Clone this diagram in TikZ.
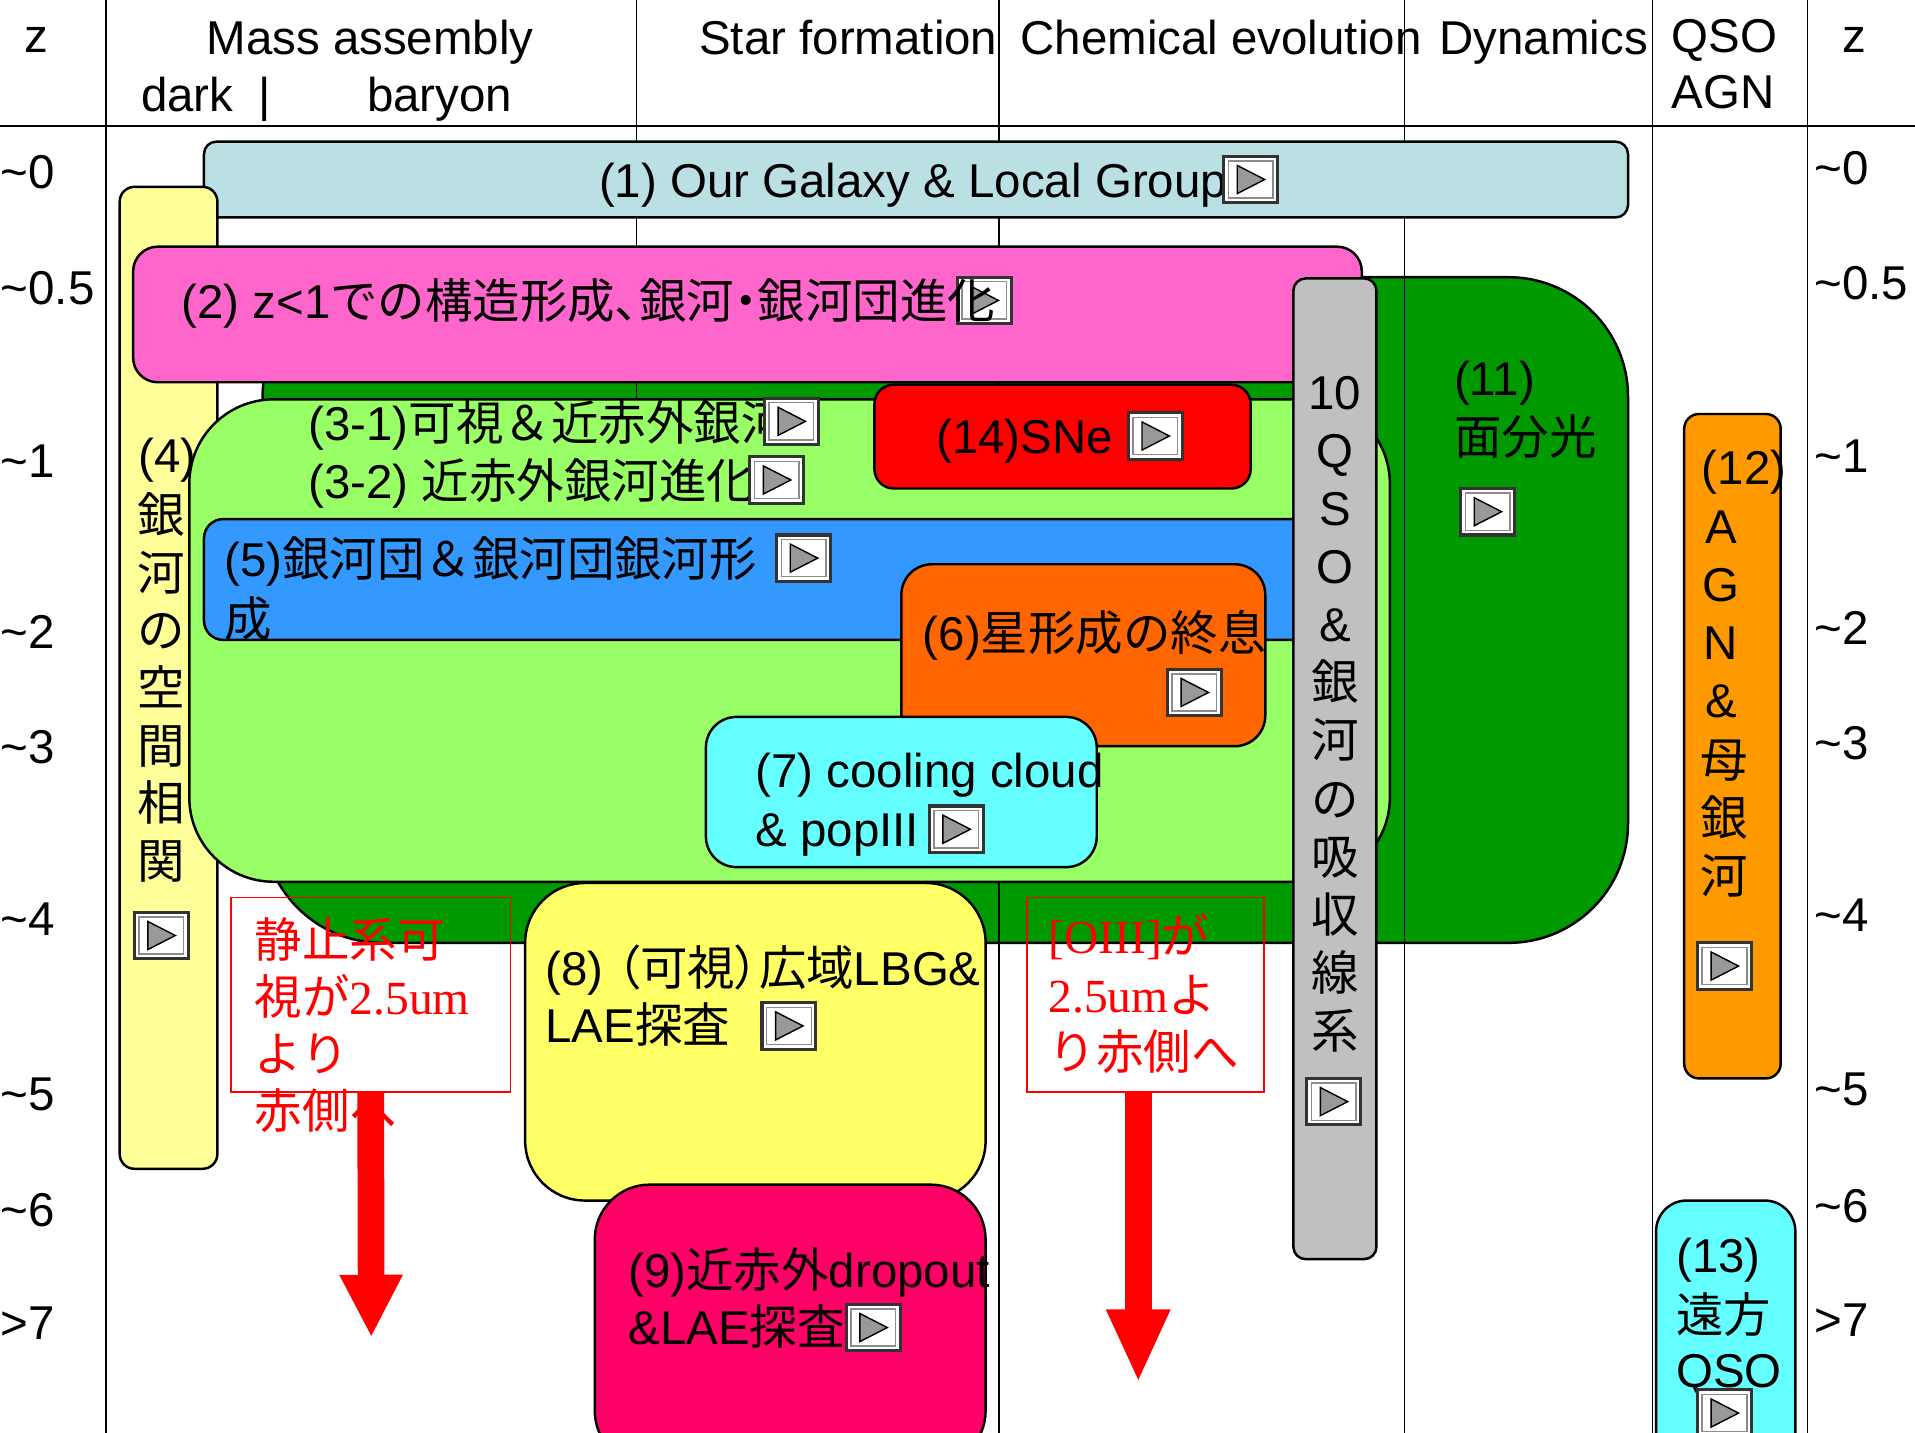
\documentclass[tikz,border=0pt]{standalone}
\usepackage{fontspec}
\setmainfont{Liberation Sans}
\newfontfamily\jp{Noto Sans CJK JP}
\newfontfamily\jpp[RawFeature=+palt]{Noto Sans CJK JP}
\newfontfamily\ser{Liberation Serif}
\usetikzlibrary{arrows.meta,calc}
\def\pxu{0.3475pt}
\definecolor{cLB}{HTML}{BBE0E3}
\definecolor{cPink}{HTML}{FF66CC}
\definecolor{cLG}{HTML}{99FF66}
\definecolor{cDG}{HTML}{009900}
\definecolor{cRed}{HTML}{FF0000}
\definecolor{cBlue}{HTML}{3399FF}
\definecolor{cOr}{HTML}{FF6600}
\definecolor{cCy}{HTML}{66FFFF}
\definecolor{cYe}{HTML}{FFFF66}
\definecolor{cMag}{HTML}{FF0066}
\definecolor{cGr}{HTML}{C0C0C0}
\definecolor{cOrb}{HTML}{FF9900}
\definecolor{cPY}{HTML}{FFFF99}
\definecolor{cTri}{HTML}{999999}
\begin{document}
\begin{tikzpicture}[x=0.012213cm, y=-0.012213cm,
  every node/.style={inner sep=0pt, font=\fontsize{13.5}{16}\selectfont},
  box/.style={draw=black, line width=0.7pt},
  colline/.style={draw=black, line width=0.45pt},
  btn/.style={draw=black!80, line width=0.9pt, fill=white,
    minimum width=15.3pt, minimum height=13.2pt,
    path picture={
      \draw[black!45, line width=0.4pt] ([shift={(1.3pt,1.3pt)}]path picture bounding box.south west) rectangle ([shift={(-1.3pt,-1.3pt)}]path picture bounding box.north east);
      \filldraw[fill=cTri, draw=black, line width=0.4pt]
        ([shift={(-3.8pt,4pt)}]path picture bounding box.center) --
        ([shift={(-3.8pt,-4pt)}]path picture bounding box.center) --
        ([shift={(4pt,0pt)}]path picture bounding box.center) -- cycle;}},
  txt/.style={anchor=base west},
  ctr/.style={anchor=base},
  redtxt/.style={anchor=base west, text=red},
  notebox/.style={draw=red, line width=0.5pt},
  bigarrow/.style={draw=red, line width=7.6pt}]
\useasboundingbox (0,0) rectangle (1568,1173);
\clip (0,0) rectangle (1568,1173);
\fill[white] (0,0) rectangle (1568,1173);

% dark green background region (3 behind / 11)
\draw[box, fill=cDG, rounded corners=34pt] (215,227) rectangle (1333,772);

% table lines
\draw[colline] (0,103) -- (1568,103);
\foreach \x in {87,521,818,1150,1353,1480} \draw[colline] (\x,0) -- (\x,1173);

% boxes
\draw[box, fill=cLB, rounded corners=3.5pt] (167,116) rectangle (1333,178);
\draw[box, fill=cPY, rounded corners=4.2pt] (98,153) rectangle (178,957);
\draw[box, fill=cPink, rounded corners=7pt] (109,202) rectangle (1115,313);
\draw[box, fill=cLG, rounded corners=24pt] (155,327) rectangle (1138,722);
\draw[box, fill=cRed, rounded corners=5.5pt] (716,315) rectangle (1024,400);
\draw[box, fill=cBlue, rounded corners=5.5pt] (167,425) rectangle (1080,524);
\draw[box, fill=cOr, rounded corners=8.7pt] (738,462) rectangle (1036,611);
\draw[box, fill=cCy, rounded corners=8.7pt] (578,587) rectangle (898,710);
\draw[box, fill=cYe, rounded corners=17pt] (430,723) rectangle (807,983);
\draw[box, fill=cMag, rounded corners=15.6pt] (487,970) rectangle (807,1200);
\draw[box, fill=cGr, rounded corners=3.5pt] (1059,228) rectangle (1127,1031);
\draw[box, fill=cOrb, rounded corners=4.2pt] (1379,339) rectangle (1458,883);
\draw[box, fill=cCy, rounded corners=8.7pt] (1356,983) rectangle (1470,1200);

% red note boxes
\node[notebox, minimum width=229*\pxu, minimum height=159*\pxu] (n1) at (303.5,814.5) {};
\node[notebox, minimum width=194*\pxu, minimum height=159*\pxu] (n2) at (938,814.5) {};

% header
\node[ctr] (hz1) at (30,43) {z};
\node[ctr] (hma) at (303,45) {Mass assembly};
\node[txt] (hdark) at (115,91) {dark};
\node[ctr] (hbar) at (217,91) {|};
\node[txt] (hbary) at (300,91) {baryon};
\node[txt] (hsf) at (572,45) {Star formation};
\node[txt] (hce) at (835,45) {Chemical evolution};
\node[txt] (hdy) at (1178,45) {Dynamics};
\node[txt] (hqso) at (1368,43) {QSO};
\node[txt] (hagn) at (1368,89) {AGN};
\node[ctr] (hz2) at (1518,43) {z};

% z labels
\foreach \t/\yl/\yr [count=\i] in {\textasciitilde 0/154/151, \textasciitilde 0.5/249/245, \textasciitilde 1/391/387, \textasciitilde 2/531/528, \textasciitilde 3/625/622, \textasciitilde 4/766/763, \textasciitilde 5/909/905, \textasciitilde 6/1004/1001, >7/1097/1094}{
  \node[txt] (zl\i) at (0,\yl) {\t};
  \node[txt] (zr\i) at (1485,\yr) {\t};
}

% box texts
\node[txt] (t1) at (490,162) {(1) Our Galaxy \& Local Group};
\node[txt] (t31) at (252,361) {(3-1){\jp 可視＆近赤外銀河}};
\node[txt] (t32) at (252,408) {(3-2) {\jp 近赤外銀河進化}};
\node[txt] (t14) at (766,371) {(14)SNe};
\node[txt] (t5a) at (183,472) {(5){\jp 銀河団＆銀河団銀河形}};
\node[txt] (t5b) at (183,521) {\jp 成};
\node[txt] (t6) at (755,533) {(6){\jp 星形成の終息}};
\node[txt] (t7a) at (618,645) {(7) cooling cloud};
\node[txt] (t7b) at (618,693) {\& popIII};
\node[txt] (t8a) at (446,807) {(8) {\jpp （可視）広域}LBG\&};
\node[txt] (t8b) at (446,854) {LAE{\jp 探査}};
\node[txt] (t9a) at (514,1054) {(9){\jp 近赤外}dropout};
\node[txt] (t9b) at (514,1101) {\&LAE{\jp 探査}};
\node[txt] (t11a) at (1190,324) {(11)};
\node[txt] (t11b) at (1190,372) {\jp 面分光};
\node[txt] (t13a) at (1372,1042) {(13)};
\node[txt] (t13b) at (1372,1091) {\jp 遠方};
\node[txt] (t13c) at (1372,1136) {QSO};

% vertical texts
\node[ctr] (t4) at (137,387) {(4)};
\foreach \c [count=\i] in {銀,河,の,空,間,相,関}
  \node[ctr] (t4c\i) at (132,{436+47.2*(\i-1)}) {\jp \c};
\foreach \c [count=\i] in {10,Q,S,O,\&}
  \node[ctr] (t10l\i) at (1093,{335+47.6*(\i-1)}) {\c};
\foreach \c [count=\i] in {銀,河,の,吸,収,線,系}
  \node[ctr] (t10c\i) at (1093,{573+47.6*(\i-1)}) {\jp \c};
\node[ctr] (t12) at (1428,397) {(12)};
\foreach \c [count=\i] in {A,G,N,\&}
  \node[ctr] (t12l\i) at (1409,{445+47.6*(\i-1)}) {\c};
\foreach \c [count=\i] in {母,銀,河}
  \node[ctr] (t12c\i) at (1412,{637+47.2*(\i-1)}) {\jp \c};

% red note texts
\node[redtxt] (r1a) at (208,784) {\jp 静止系可};
\node[redtxt] (r1b) at (208,831) {{\jp 視が}{\ser 2.5um}};
\node[redtxt] (r1c) at (208,877) {\jp より};
\node[redtxt] (r1d) at (208,924) {\jp 赤側へ};
\node[redtxt] (r2a) at (858,781) {{\ser [OIII]}{\jp が}};
\node[redtxt] (r2b) at (858,829) {{\ser 2.5um}{\jp よ}};
\node[redtxt] (r2c) at (858,876) {\jp り赤側へ};

% play buttons
\node[btn] (b1) at (1024,147) {};
\node[btn] (b2) at (806,246) {};
\node[btn] (b31) at (648,345) {};
\node[btn] (b32) at (636,393) {};
\node[btn] (b4) at (132,766) {};
\node[btn] (b5) at (658,457) {};
\node[btn] (b14) at (946,357) {};
\node[btn] (b6) at (978,567) {};
\node[btn] (b7) at (783,679) {};
\node[btn] (b8) at (646,840) {};
\node[btn] (b9) at (715,1087) {};
\node[btn] (b10) at (1092,902) {};
\node[btn] (b11) at (1218,419) {};
\node[btn] (b12) at (1412,791) {};
\node[btn] (b13) at (1412,1157) {};

% text over its button
\node[txt] (t2) at (148,261) {(2) z<1{\jp での構造形成}{\jpp 、}{\jp 銀河}{\jpp ・}{\jp 銀河団進化}};

% red arrows
\coordinate (a1) at (304,1095);
\coordinate (a2) at (932,1132);
\draw[bigarrow, -{Triangle[width=16.7pt, length=17.8pt]}] (n1.south) -- (a1);
\draw[bigarrow, -{Triangle[width=16.7pt, length=20.8pt]}] (n2.south -| a2) -- (a2);
\end{tikzpicture}
\end{document}
